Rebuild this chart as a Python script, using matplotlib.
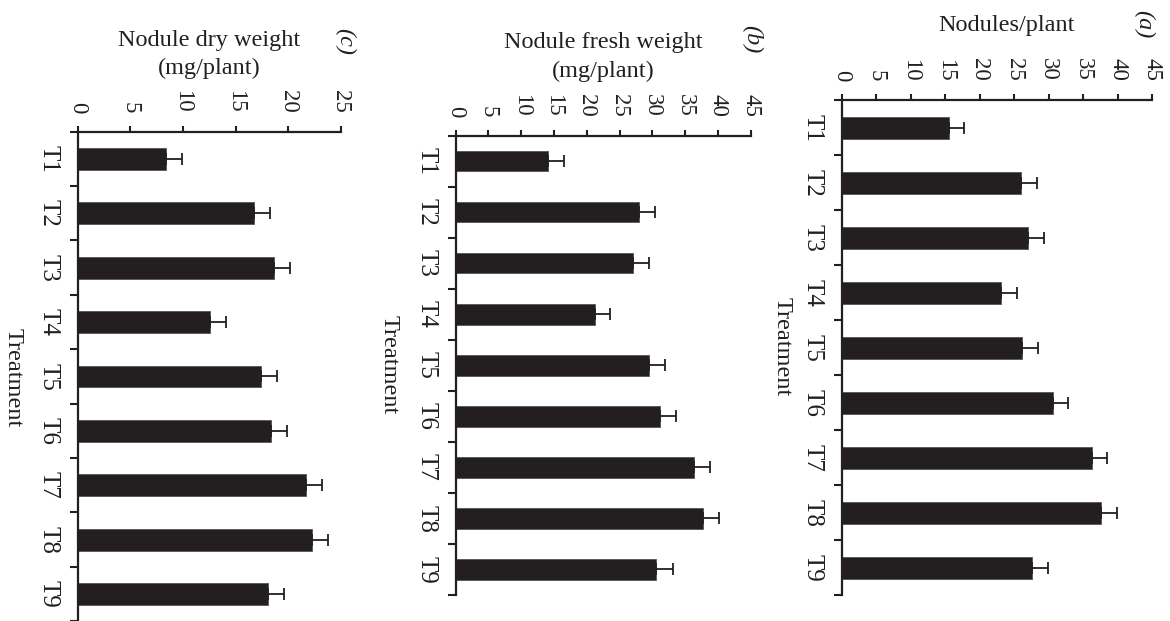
import numpy as np
import matplotlib
matplotlib.use("Agg")
import matplotlib.pyplot as plt

plt.rcParams['font.family'] = ['Liberation Serif', 'DejaVu Serif']

treatments = ["T1", "T2", "T3", "T4", "T5", "T6", "T7", "T8", "T9"]

nodules = [15.6, 26.0, 27.0, 23.1, 26.2, 30.6, 36.3, 37.6, 27.6]
nodules_err = [2.2, 2.3, 2.3, 2.3, 2.3, 2.2, 2.2, 2.3, 2.3]

fresh = [14.1, 27.9, 27.1, 21.2, 29.5, 31.1, 36.3, 37.7, 30.6]
fresh_err = [2.4, 2.5, 2.4, 2.4, 2.4, 2.5, 2.5, 2.5, 2.5]

dry = [8.4, 16.8, 18.7, 12.6, 17.4, 18.4, 21.7, 22.3, 18.1]
dry_err = [1.5, 1.5, 1.5, 1.5, 1.5, 1.5, 1.5, 1.5, 1.5]

W, H = 1170, 621
ink = '#231f20'

fig = plt.figure(figsize=(W / 100, H / 100), dpi=100)


def px_rect(left, top, right, bottom):
    return [left / W, 1 - bottom / H, (right - left) / W, (bottom - top) / H]


def panel(rect, vals, errs, xmax):
    ax = fig.add_axes(px_rect(*rect))
    y = np.arange(len(treatments))
    ax.barh(y, vals, height=0.4, color=ink, edgecolor='#555555', linewidth=0.6)
    ax.errorbar(vals, y, xerr=[np.zeros(len(errs)), errs], fmt='none',
                ecolor=ink, elinewidth=1.3, capsize=4.5, capthick=1.3)
    ax.set_xlim(0, xmax)
    ax.set_ylim(len(treatments) - 0.5, -0.5)

    for s in ['right', 'bottom']:
        ax.spines[s].set_visible(False)
    for s in ['left', 'top']:
        ax.spines[s].set_linewidth(1.6)
        ax.spines[s].set_color(ink)

    # value axis on top, labels turned with the figure
    ax.xaxis.tick_top()
    ax.set_xticks(np.arange(0, xmax + 1, 5))
    ax.tick_params(axis='x', direction='out', length=4.5, width=1.5,
                   color=ink, labelcolor=ink, labelsize=16.5, pad=9,
                   labelrotation=-90)

    # category axis: marks between bars, names at centres
    ax.set_yticks(y)
    ax.set_yticklabels(treatments, rotation=-90, va='center')
    ax.set_yticks(np.arange(-0.5, len(treatments), 1), minor=True)
    ax.tick_params(axis='y', which='major', length=0, pad=13,
                   labelcolor=ink, labelsize=18)
    ax.tick_params(axis='y', which='minor', direction='out', length=5.5,
                   width=1.5, color=ink)
    return ax


panel((841.7, 100, 1152, 595), nodules, nodules_err, 45)
panel((455.7, 135.7, 750.7, 595), fresh, fresh_err, 45)
panel((77.7, 131.7, 340.7, 621.3), dry, dry_err, 25)


def ftext(x, y, s, **kw):
    fig.text(x / W, 1 - y / H, s, color=ink, **kw)


# value axis titles (horizontal after rotation)
ftext(1007, 31, "Nodules/plant", fontsize=17.5, ha='center', va='baseline')
ftext(603, 48, "Nodule fresh weight", fontsize=17.5, ha='center', va='baseline')
ftext(603, 77, "(mg/plant)", fontsize=17.5, ha='center', va='baseline')
ftext(209, 46, "Nodule dry weight", fontsize=17.5, ha='center', va='baseline')
ftext(209, 74, "(mg/plant)", fontsize=17.5, ha='center', va='baseline')

# category axis titles
for x, y in [(782, 347), (389, 365), (13, 378)]:
    ftext(x, y, "Treatment", fontsize=17.5, rotation=-90,
          ha='center', va='center')

# panel letters
for x, y, s in [(1144, 24, "(a)"), (752, 39, "(b)"), (345, 42, "(c)")]:
    ftext(x, y, s, fontsize=17.5, style='italic', rotation=-90,
          ha='center', va='center')

fig.savefig("out.png", dpi=100)
